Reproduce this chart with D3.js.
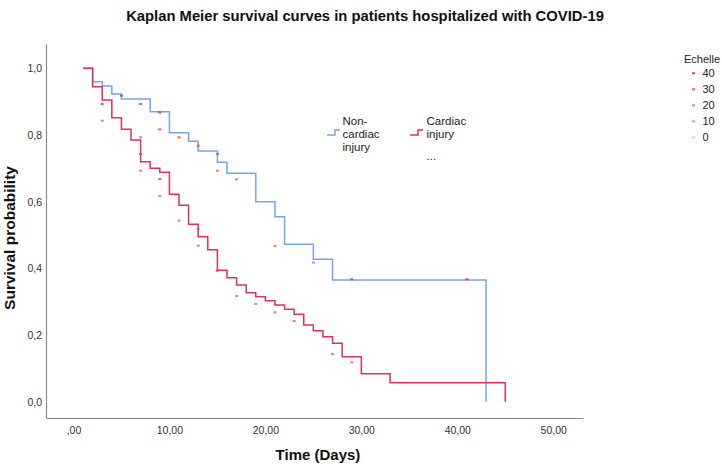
<!DOCTYPE html>
<html><head><meta charset="utf-8">
<script src="https://cdn.jsdelivr.net/npm/d3@7"></script>
<style>html,body{margin:0;padding:0;background:#fff;} svg{display:block;font-family:"Liberation Sans",Arial,sans-serif;}</style>
</head><body>
<svg id="chart" width="722" height="467"></svg>
<script>
// ---- data ----
const title = "Kaplan Meier survival curves in patients hospitalized with COVID-19";
const xTicks = [0, 10, 20, 30, 40, 50];
const yTicks = [0, 0.2, 0.4, 0.6, 0.8, 1.0];
const groupNames = ["Non-cardiac injury", "Cardiac injury"];
const nonCardiacTime = [1, 2, 3, 4, 5, 8, 10, 12, 13, 15, 16, 19, 21, 22, 25, 27, 43];
const nonCardiacSurv = [1.0, 0.960, 0.947, 0.923, 0.908, 0.870, 0.807, 0.781, 0.752, 0.718, 0.685, 0.600, 0.555, 0.472, 0.427, 0.365, 0.0];
const cardiacTime = [1, 2, 3, 4, 5, 6, 7, 8, 9, 10, 11, 12, 13, 14, 15, 16, 17, 18, 19, 20, 21, 22, 23, 24, 25, 26, 27, 28, 30, 33, 45];
const cardiacSurv = [1.0, 0.945, 0.905, 0.852, 0.817, 0.785, 0.720, 0.700, 0.688, 0.622, 0.589, 0.532, 0.495, 0.456, 0.394, 0.372, 0.350, 0.327, 0.315, 0.303, 0.290, 0.277, 0.262, 0.230, 0.213, 0.195, 0.175, 0.135, 0.084, 0.057, 0.0];
const markTime = [3, 3, 5, 7, 7, 7, 7, 9, 9, 9, 9, 11, 11, 13, 13, 13, 15, 15, 15, 17, 17, 19, 21, 21, 23, 25, 27, 29, 29, 41];
const markSurv = [0.893, 0.843, 0.918, 0.893, 0.793, 0.743, 0.693, 0.868, 0.817, 0.668, 0.617, 0.793, 0.543, 0.768, 0.518, 0.468, 0.743, 0.693, 0.393, 0.667, 0.317, 0.293, 0.467, 0.268, 0.242, 0.417, 0.143, 0.367, 0.118, 0.367];
const markScale = [30, 20, 40, 30, 20, 30, 20, 40, 30, 30, 20, 30, 20, 30, 20, 20, 30, 20, 40, 20, 20, 20, 20, 20, 20, 20, 20, 40, 20, 40];
const scaleLegend = [40, 30, 20, 10, 0];

// ---- chart ----
const svg = d3.select("#chart");
const x = d3.scaleLinear().domain([-2.86, 53.1]).range([46, 583]);
const y = d3.scaleLinear().domain([-0.049, 1.073]).range([418, 44]);
const blue = "#76a5ea", red = "#df3159";

svg.append("text").attr("x", 365).attr("y", 21).attr("text-anchor", "middle")
  .attr("font-size", 14.8).attr("font-weight", "bold").attr("fill", "#111").text(title);

const fmtX = d => d === 0 ? ",00" : d + ",00";
const fmtY = d => d3.format(".1f")(d).replace(".", ",");

const gx = svg.append("g").attr("transform", "translate(0,418)")
  .call(d3.axisBottom(x).tickValues(xTicks).tickFormat(fmtX).tickSize(0).tickSizeOuter(0).tickPadding(9));
const gy = svg.append("g").attr("transform", "translate(46,0)")
  .call(d3.axisLeft(y).tickValues(yTicks).tickFormat(fmtY).tickSize(0).tickSizeOuter(0).tickPadding(4));
[gx, gy].forEach(g => {
  g.select(".domain").attr("stroke", "#8a8a8a").attr("stroke-width", 1.2);
  g.selectAll("text").attr("font-size", 10.5).attr("fill", "#333").attr("font-family", "Liberation Sans, Arial, sans-serif");
});

svg.append("text").attr("x", 318).attr("y", 460).attr("text-anchor", "middle")
  .attr("font-size", 15).attr("font-weight", "bold").attr("fill", "#111").text("Time (Days)");
svg.append("text").attr("transform", "translate(15,238) rotate(-90)").attr("text-anchor", "middle")
  .attr("font-size", 15.5).attr("font-weight", "bold").attr("fill", "#111").text("Survival probability");

const line = d3.line().x(d => x(d[0])).y(d => y(d[1])).curve(d3.curveStepAfter);
const nc = nonCardiacTime.map((t, i) => [t, nonCardiacSurv[i]]);
const ca = cardiacTime.map((t, i) => [t, cardiacSurv[i]]);
svg.append("path").datum(nc).attr("d", line).attr("fill", "none").attr("stroke", blue).attr("stroke-width", 1.5);
svg.append("path").datum(ca).attr("d", line).attr("fill", "none").attr("stroke", red).attr("stroke-width", 1.5);

const sz = d3.scaleLinear().domain([0, 40]).range([0.35, 1]);
const marks = markTime.map((t, i) => ({t, s: markSurv[i], v: markScale[i]}));
svg.append("g").selectAll("rect").data(marks).join("rect")
  .attr("x", d => x(d.t) - 1.5).attr("y", d => y(d.s) - 1)
  .attr("width", 3).attr("height", 2)
  .attr("fill", "#ee3a5e").attr("opacity", d => sz(d.v));

// inline legend
const lg = svg.append("g");
lg.append("path").attr("d", "M327,135 H335 V130 H340").attr("fill", "none").attr("stroke", blue).attr("stroke-width", 1.5);
lg.append("path").attr("d", "M410,135 H418 V130 H423").attr("fill", "none").attr("stroke", red).attr("stroke-width", 1.5);
const lt = lg.append("g").attr("font-size", 11.5).attr("fill", "#222");
[["Non-", 342.5, 125], ["cardiac", 342.5, 138], ["injury", 342.5, 151],
 ["Cardiac", 426.5, 125], ["injury", 426.5, 138], ["...", 426.5, 160]].forEach(r => {
  lt.append("text").attr("x", r[1]).attr("y", r[2]).text(r[0]);
});

// scale legend
const sl = svg.append("g").attr("font-size", 11).attr("fill", "#222");
sl.append("text").attr("x", 684).attr("y", 63).text("Echelle");
scaleLegend.forEach((v, i) => {
  const cy = 73.3 + 16 * i;
  sl.append("rect").attr("x", 692).attr("y", cy - 1).attr("width", 3).attr("height", 2)
    .attr("fill", "#ee3a5e").attr("opacity", sz(v));
  sl.append("text").attr("x", 702.5).attr("y", cy + 4).text(v);
});
</script>
</body></html>
